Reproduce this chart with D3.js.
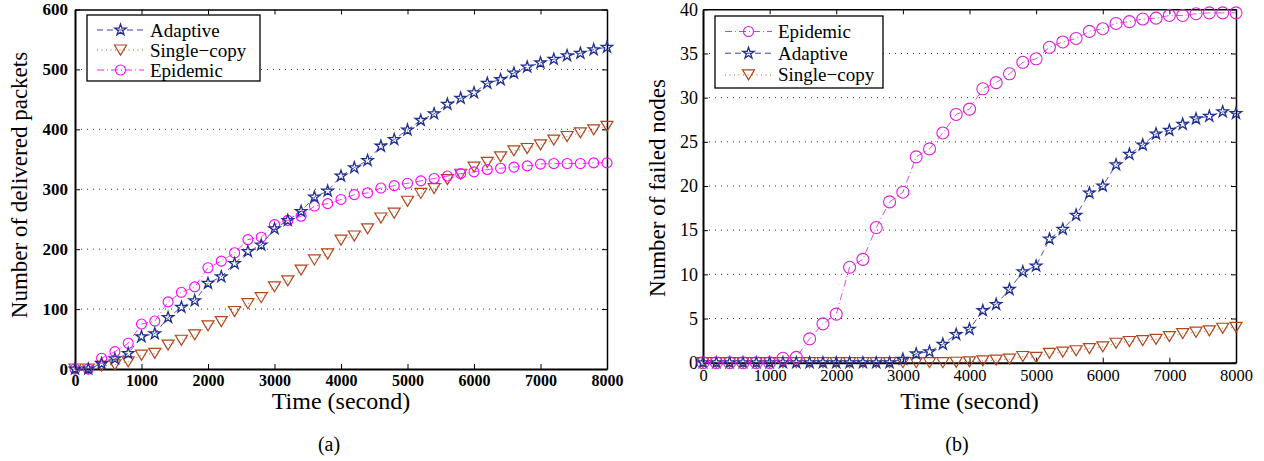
<!DOCTYPE html>
<html>
<head>
<meta charset="utf-8">
<script src="https://cdn.jsdelivr.net/npm/d3@7"></script>
<style>
  body { margin: 0; background: #fff; }
  text { font-family: "Liberation Serif", "Times New Roman", serif; }
</style>
</head>
<body>
<svg id="chart" width="1264" height="461"></svg>
<script>
// sample times (seconds), one point every 200 s
const times = [0, 200, 400, 600, 800, 1000, 1200, 1400, 1600, 1800, 2000, 2200, 2400, 2600, 2800,
  3000, 3200, 3400, 3600, 3800, 4000, 4200, 4400, 4600, 4800, 5000, 5200, 5400, 5600, 5800,
  6000, 6200, 6400, 6600, 6800, 7000, 7200, 7400, 7600, 7800, 8000];
const timeTicks = [0, 1000, 2000, 3000, 4000, 5000, 6000, 7000, 8000];

// (a) number of delivered packets
const deliveredTicks = [0, 100, 200, 300, 400, 500, 600];
const deliveredAdaptive = [0, 0, 9, 17, 26, 54, 59, 86, 103, 114, 143, 154, 176, 196, 207, 234, 248, 263,
  287, 297, 322, 336, 348, 372, 383, 399, 415, 426, 442, 452, 461, 477, 483, 494, 504, 511, 517, 523, 527, 533, 537];
const deliveredSingle = [0, 0, 5, 7, 12, 23, 26, 40, 48, 57, 72, 79, 96, 109, 119, 137, 147, 165,
  182, 192, 215, 222, 234, 252, 260, 280, 293, 301, 316, 325, 337, 345, 354, 364, 368, 374, 382, 388, 394, 399, 405];
const deliveredEpidemic = [0, 0, 18, 29, 43, 75, 80, 112, 128, 137, 169, 180, 194, 216, 220, 241, 248, 255,
  272, 276, 283, 291, 294, 302, 306, 310, 314, 318, 322, 326, 329, 333, 335, 337, 339, 342, 343, 343, 343, 344, 344];

// (b) number of failed nodes
const failedTicks = [0, 5, 10, 15, 20, 25, 30, 35, 40];
const failedEpidemic = [0, 0, 0, 0, 0, 0, 0.5, 0.6, 2.7, 4.4, 5.5, 10.8, 11.7, 15.3, 18.2, 19.3, 23.3, 24.2,
  26.0, 28.1, 28.7, 31.0, 31.7, 32.7, 34.0, 34.4, 35.7, 36.3, 36.7, 37.5, 37.8, 38.4, 38.6, 38.9, 39.0, 39.3,
  39.3, 39.5, 39.6, 39.6, 39.6];
const failedAdaptive = [0, 0, 0, 0, 0, 0, 0, 0, 0, 0, 0, 0, 0, 0, 0, 0.4, 1.0, 1.25, 2.1, 3.2, 3.8, 5.9, 6.6,
  8.3, 10.3, 10.95, 14.0, 15.1, 16.7, 19.2, 20.0, 22.4, 23.6, 24.65, 25.9, 26.3, 27.0, 27.6, 27.9, 28.4, 28.2];
const failedSingle = [0, 0, 0, 0, 0, 0, 0, 0, 0, 0, 0, 0, 0, 0, 0, 0, 0, 0, 0, 0.05, 0.1, 0.2, 0.3, 0.4,
  0.7, 0.6, 1.05, 1.2, 1.35, 1.6, 1.8, 2.2, 2.4, 2.5, 2.65, 2.95, 3.3, 3.45, 3.6, 3.9, 4.0];

const svg = d3.select("#chart");

// marker shapes, all drawn hollow
const starPath = d3.symbol(d3.symbolStar, 40)();
const triPath = "M-6,-5L6,-5L0,5Z";

const styles = {
  Adaptive: { color: "#1f2f92", dash: "6,4", marker: "star" },
  "Single\u2212copy": { color: "#b0461c", dash: "1,3.5", marker: "tri" },
  Epidemic: { color: "#ff00ff", dash: "7,3,1,3", marker: "circle" }
};

function addMarker(g, kind, x, y, color, r) {
  if (kind === "circle") {
    g.append("circle").attr("cx", x).attr("cy", y).attr("r", r)
      .attr("fill", "none").attr("stroke", color).attr("stroke-width", 1.1);
  } else {
    g.append("path").attr("d", kind === "star" ? starPath : triPath)
      .attr("transform", `translate(${x},${y})`)
      .attr("fill", "none").attr("stroke", color).attr("stroke-width", kind === "star" ? 1.3 : 1.2);
  }
}

function drawPanel(p) {
  const g = svg.append("g");
  const x = d3.scaleLinear().domain([0, 8000]).range([p.left, p.right]);
  const y = d3.scaleLinear().domain([p.yTicks[0], p.yTicks[p.yTicks.length - 1]]).range([p.bottom, p.top]);
  const fmt = d3.format("d");

  // dotted grid
  g.selectAll(".grid").data(p.yTicks.slice(1, -1)).enter().append("line")
    .attr("x1", p.left).attr("x2", p.right)
    .attr("y1", d => y(d)).attr("y2", d => y(d))
    .attr("stroke", "#333").attr("stroke-width", 1)
    .attr("stroke-dasharray", "1,5");

  // axes with inward ticks
  const xAxis = g.append("g").attr("transform", `translate(0,${p.bottom})`)
    .call(d3.axisBottom(x).tickValues(timeTicks).tickFormat(fmt)
      .tickSizeInner(-5).tickSizeOuter(0).tickPadding(p.xPad));
  const yAxis = g.append("g").attr("transform", `translate(${p.left},0)`)
    .call(d3.axisLeft(y).tickValues(p.yTicks).tickFormat(fmt)
      .tickSizeInner(-5).tickSizeOuter(0).tickPadding(p.yPad));
  const topAxis = g.append("g").attr("transform", `translate(0,${p.top})`)
    .call(d3.axisTop(x).tickValues(timeTicks).tickSizeInner(-5).tickSizeOuter(0).tickFormat(""));
  const rightAxis = g.append("g").attr("transform", `translate(${p.right},0)`)
    .call(d3.axisRight(y).tickValues(p.yTicks).tickSizeInner(-5).tickSizeOuter(0).tickFormat(""));

  [xAxis, yAxis].forEach(a => a.select(".domain").attr("stroke-width", 2));
  [topAxis, rightAxis].forEach(a => a.select(".domain").attr("stroke-width", 1.5));
  xAxis.selectAll("text").attr("font-size", p.xFont).attr("font-weight", p.tickWeight)
    .attr("font-family", "Liberation Serif").attr("fill", "#000");
  yAxis.selectAll("text").attr("font-size", p.yFont).attr("font-weight", p.tickWeight)
    .attr("font-family", "Liberation Serif").attr("fill", "#000");

  // series
  p.series.forEach(s => {
    const st = styles[s.name];
    const color = s.color || st.color;
    const pts = times.map((t, i) => [x(t), y(s.values[i])]);
    g.append("path").attr("d", d3.line()(pts))
      .attr("fill", "none").attr("stroke", color).attr("stroke-width", 0.8)
      .attr("stroke-dasharray", st.dash);
    const mg = g.append("g");
    pts.forEach(([px, py]) => addMarker(mg, st.marker, px, py, color, p.circleR));
  });

  // legend
  const lg = g.append("g");
  lg.append("rect").attr("x", p.legend.x).attr("y", p.legend.y)
    .attr("width", p.legend.w).attr("height", p.legend.h)
    .attr("fill", "#fff").attr("stroke", "#000").attr("stroke-width", 1.3);
  p.legendOrder.forEach((name, i) => {
    const st = styles[name];
    const s = p.series.find(d => d.name === name);
    const color = s.color || st.color;
    const ly = p.legend.y + p.legend.row0 + i * p.legend.rowH;
    const lx0 = p.legend.x + 10, lx1 = lx0 + 47;
    lg.append("line").attr("x1", lx0).attr("x2", lx1).attr("y1", ly).attr("y2", ly)
      .attr("stroke", color).attr("stroke-width", 0.9).attr("stroke-dasharray", st.dash);
    addMarker(lg, st.marker, (lx0 + lx1) / 2, ly, color, 5);
    lg.append("text").attr("x", lx1 + 6).attr("y", ly + 6.5)
      .attr("font-size", 19).text(name);
  });

  // titles
  g.append("text").attr("transform", `translate(${p.yTitleX},${p.yTitleY}) rotate(-90)`)
    .attr("text-anchor", "middle").attr("font-size", 23).text(p.yTitle);
  g.append("text").attr("x", (p.left + p.right) / 2).attr("y", 409)
    .attr("text-anchor", "middle").attr("font-size", 24).text("Time (second)");
  g.append("text").attr("x", p.captionX).attr("y", 451)
    .attr("text-anchor", "middle").attr("font-size", 20).text(p.caption);
}

drawPanel({
  left: 75, right: 607, top: 9.5, bottom: 369,
  yTicks: deliveredTicks, xPad: 6, yPad: 7, xFont: 16, yFont: 17, tickWeight: "bold",
  circleR: 5,
  series: [
    { name: "Single\u2212copy", values: deliveredSingle },
    { name: "Epidemic", values: deliveredEpidemic },
    { name: "Adaptive", values: deliveredAdaptive }
  ],
  legendOrder: ["Adaptive", "Single\u2212copy", "Epidemic"],
  legend: { x: 87, y: 15, w: 173, h: 66, row0: 15, rowH: 20 },
  yTitle: "Number of delivered packets", yTitleX: 27, yTitleY: 185,
  caption: "(a)", captionX: 329
});

drawPanel({
  left: 703, right: 1236, top: 9.3, bottom: 362.7,
  yTicks: failedTicks, xPad: 7, yPad: 5, xFont: 16.5, yFont: 18, tickWeight: "normal",
  circleR: 6,
  series: [
    { name: "Single\u2212copy", values: failedSingle },
    { name: "Adaptive", values: failedAdaptive },
    { name: "Epidemic", values: failedEpidemic, color: "#d81fd8" }
  ],
  legendOrder: ["Epidemic", "Adaptive", "Single\u2212copy"],
  legend: { x: 715, y: 16, w: 168, h: 72, row0: 15.5, rowH: 21.7 },
  yTitle: "Number of failed nodes", yTitleX: 665, yTitleY: 188,
  caption: "(b)", captionX: 957
});
</script>
</body>
</html>
